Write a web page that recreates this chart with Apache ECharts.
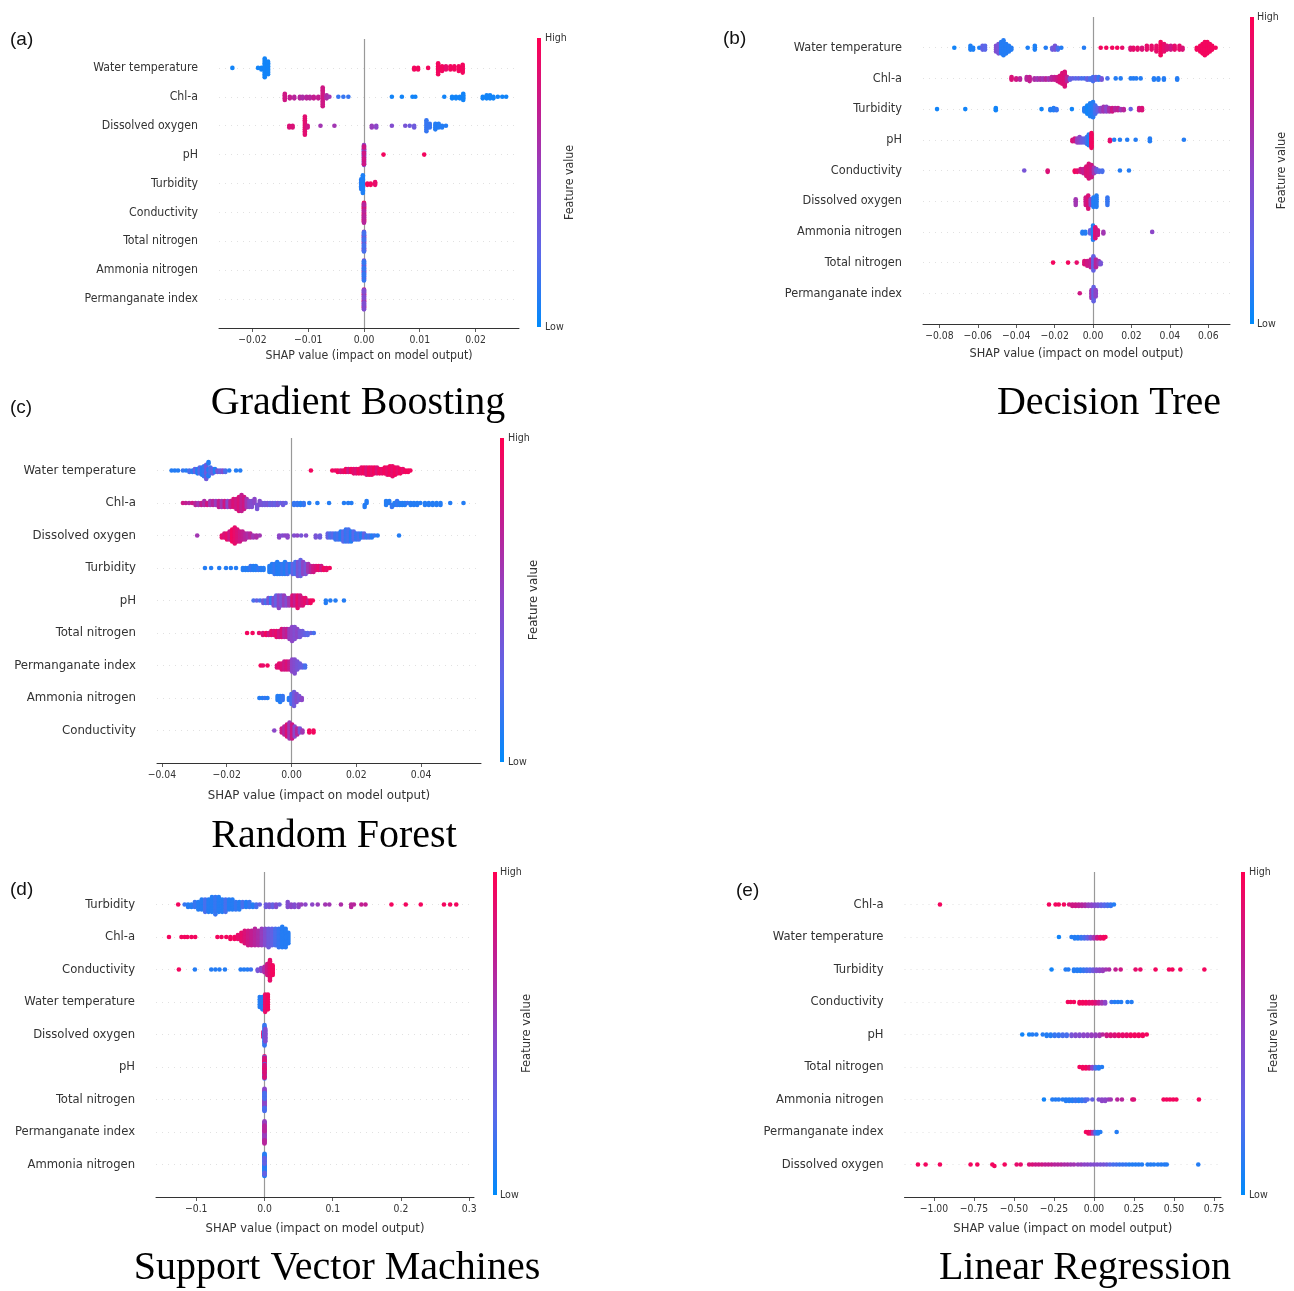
<!DOCTYPE html>
<html><head><meta charset="utf-8">
<script src="https://cdn.jsdelivr.net/npm/echarts@6/dist/echarts.min.js"></script>
<style>html,body{margin:0;padding:0;background:#fff}#chart{width:1294px;height:1291px}</style>
</head><body><div id="chart"></div>
<script>
// ================= CATEGORIES (rows, top to bottom) =================
const gbFeatures = ['Water temperature','Chl-a','Dissolved oxygen','pH','Turbidity','Conductivity','Total nitrogen','Ammonia nitrogen','Permanganate index'];
const dtFeatures = ['Water temperature','Chl-a','Turbidity','pH','Conductivity','Dissolved oxygen','Ammonia nitrogen','Total nitrogen','Permanganate index'];
const rfFeatures = ['Water temperature','Chl-a','Dissolved oxygen','Turbidity','pH','Total nitrogen','Permanganate index','Ammonia nitrogen','Conductivity'];
const svmFeatures = ['Turbidity','Chl-a','Conductivity','Water temperature','Dissolved oxygen','pH','Total nitrogen','Permanganate index','Ammonia nitrogen'];
const lrFeatures = ['Chl-a','Water temperature','Turbidity','Conductivity','pH','Total nitrogen','Ammonia nitrogen','Permanganate index','Dissolved oxygen'];

// ================= TICKS =================
const gbTicks = [-0.02,-0.01,0,0.01,0.02];
const gbTickLabels = ['\u22120.02','\u22120.01','0.00','0.01','0.02'];
const dtTicks = [-0.08,-0.06,-0.04,-0.02,0,0.02,0.04,0.06];
const dtTickLabels = ['\u22120.08','\u22120.06','\u22120.04','\u22120.02','0.00','0.02','0.04','0.06'];
const rfTicks = [-0.04,-0.02,0,0.02,0.04];
const rfTickLabels = ['\u22120.04','\u22120.02','0.00','0.02','0.04'];
const svmTicks = [-0.1,0,0.1,0.2,0.3];
const svmTickLabels = ['\u22120.1','0.0','0.1','0.2','0.3'];
const lrTicks = [-1,-0.75,-0.5,-0.25,0,0.25,0.5,0.75];
const lrTickLabels = ['\u22121.00','\u22120.75','\u22120.50','\u22120.25','0.00','0.25','0.50','0.75'];

// ================= SERIES VALUES: [SHAP value, feature value (0 low..1 high), number of samples] =================
// (a) Gradient Boosting
const gb_water_temperature = [[-0.0236,0.05,1],[-0.0190,0.05,1],[-0.0184,0.05,2],[-0.0178,0.05,13],[-0.0172,0.05,9],[0.0090,0.95,2],[0.0097,0.95,2],[0.0115,0.95,1],[0.0133,0.95,8],[0.0140,0.95,4],[0.0147,0.9,3],[0.0155,0.95,3],[0.0162,0.95,3],[0.0170,0.95,4],[0.0177,0.95,6]];
const gb_chl_a = [[-0.0142,0.8,5],[-0.0133,0.75,2],[-0.0125,0.7,2],[-0.0115,0.7,2],[-0.0110,0.65,2],[-0.0103,0.7,2],[-0.0097,0.7,2],[-0.0090,0.75,2],[-0.0082,0.75,2],[-0.0074,0.8,13],[-0.0067,0.65,3],[-0.0062,0.6,1],[-0.0046,0.15,1],[-0.0037,0.15,1],[-0.0028,0.15,1],[0.0050,0.05,1],[0.0068,0.05,1],[0.0087,0.05,1],[0.0092,0.05,1],[0.0144,0.05,1],[0.0158,0.05,2],[0.0165,0.05,2],[0.0172,0.05,2],[0.0178,0.05,5],[0.0213,0.05,2],[0.0220,0.05,3],[0.0226,0.05,3],[0.0232,0.05,2],[0.0240,0.05,1],[0.0248,0.05,1],[0.0255,0.05,1]];
const gb_dissolved_oxygen = [[-0.0134,0.85,2],[-0.0128,0.85,2],[-0.0106,0.88,11],[-0.0101,0.8,2],[-0.0078,0.6,1],[-0.0053,0.6,1],[0.0014,0.55,2],[0.0022,0.5,2],[0.0050,0.45,1],[0.0074,0.4,1],[0.0082,0.35,1],[0.0090,0.35,2],[0.0112,0.15,7],[0.0118,0.15,3],[0.0128,0.1,4],[0.0134,0.1,3],[0.0140,0.1,2],[0.0147,0.1,1]];
const gb_ph = [[0,0.6,12],[0,0.35,10],[0,0.8,8],[0.0035,0.95,1],[0.0108,0.95,1]];
const gb_turbidity = [[-0.0005,0.1,8],[-0.0002,0.08,14],[0.0006,0.95,2],[0.0012,0.95,2],[0.0020,0.9,3]];
const gb_conductivity = [[0,0.9,18],[0,0.7,12]];
const gb_total_nitrogen = [[0,0.55,15],[0,0.2,15]];
const gb_ammonia_nitrogen = [[0,0.5,15],[0,0.15,15]];
const gb_permanganate_index = [[0,0.75,15],[0,0.45,15]];

// (b) Decision Tree
const dt_water_temperature = [[-0.0722,0.05,1],[-0.0638,0.08,3],[-0.0624,0.08,2],[-0.0592,0.08,1],[-0.0575,0.3,3],[-0.0562,0.25,3],[-0.0505,0.45,4],[-0.0492,0.4,6],[-0.0478,0.1,7],[-0.0466,0.1,9],[-0.0452,0.1,6],[-0.0438,0.1,4],[-0.0425,0.1,2],[-0.0340,0.08,1],[-0.0303,0.08,3],[-0.0246,0.1,1],[-0.0212,0.35,2],[-0.0198,0.4,3],[-0.0183,0.2,2],[-0.0165,0.1,1],[-0.0047,0.1,1],[0.0040,0.95,1],[0.0069,0.95,1],[0.0100,0.95,1],[0.0126,0.95,1],[0.0152,0.9,1],[0.0195,0.85,2],[0.0210,0.9,2],[0.0232,0.9,2],[0.0255,0.85,2],[0.0280,0.9,3],[0.0305,0.9,3],[0.0330,0.9,4],[0.0352,0.95,8],[0.0370,0.9,5],[0.0385,0.85,3],[0.0405,0.8,3],[0.0425,0.9,3],[0.0450,0.9,3],[0.0466,0.85,2],[0.0540,0.95,2],[0.0558,0.95,4],[0.0570,0.95,6],[0.0582,0.95,8],[0.0595,0.95,7],[0.0608,0.95,5],[0.0620,0.95,3],[0.0638,0.95,1]];
const dt_chl_a = [[-0.0424,0.85,3],[-0.0400,0.8,2],[-0.0380,0.7,2],[-0.0345,0.7,3],[-0.0330,0.75,4],[-0.0305,0.65,2],[-0.0290,0.6,2],[-0.0275,0.65,2],[-0.0260,0.6,2],[-0.0245,0.7,2],[-0.0230,0.6,2],[-0.0215,0.7,3],[-0.0200,0.75,3],[-0.0185,0.8,4],[-0.0172,0.85,6],[-0.0160,0.85,9],[-0.0147,0.85,12],[-0.0135,0.7,4],[-0.0120,0.3,2],[-0.0105,0.3,1],[-0.0090,0.25,1],[-0.0075,0.3,1],[-0.0060,0.2,1],[-0.0045,0.2,1],[-0.0030,0.3,2],[-0.0015,0.2,2],[0.0000,0.2,4],[0.0015,0.3,3],[0.0030,0.15,3],[0.0045,0.4,2],[0.0075,0.2,1],[0.0118,0.1,1],[0.0144,0.1,1],[0.0196,0.1,1],[0.0210,0.1,1],[0.0225,0.1,1],[0.0248,0.1,1],[0.0317,0.1,2],[0.0340,0.1,2],[0.0369,0.1,2],[0.0438,0.1,2]];
const dt_turbidity = [[-0.0812,0.05,1],[-0.0665,0.05,1],[-0.0506,0.05,3],[-0.0268,0.05,1],[-0.0222,0.1,2],[-0.0205,0.1,3],[-0.0190,0.15,2],[-0.0110,0.05,1],[-0.0045,0.1,4],[-0.0030,0.05,8],[-0.0015,0.08,12],[0.0000,0.1,14],[0.0012,0.2,8],[0.0025,0.3,4],[0.0040,0.5,4],[0.0055,0.6,5],[0.0070,0.5,5],[0.0085,0.65,4],[0.0100,0.8,4],[0.0115,0.7,3],[0.0130,0.75,3],[0.0145,0.6,2],[0.0160,0.7,2],[0.0196,0.3,1],[0.0240,0.8,3],[0.0255,0.85,3]];
const dt_ph = [[-0.0107,0.85,2],[-0.0095,0.8,3],[-0.0082,0.55,4],[-0.0070,0.5,5],[-0.0058,0.35,4],[-0.0045,0.3,4],[-0.0032,0.2,6],[-0.0022,0.1,9],[-0.0008,0.95,12],[0.0088,0.9,2],[0.0110,0.1,1],[0.0140,0.1,1],[0.0178,0.1,1],[0.0222,0.1,1],[0.0296,0.1,3],[0.0473,0.1,1]];
const dt_conductivity = [[-0.0358,0.4,1],[-0.0236,0.85,2],[-0.0095,0.95,2],[-0.0082,0.9,2],[-0.0065,0.8,3],[-0.0050,0.75,4],[-0.0035,0.85,8],[-0.0022,0.85,12],[-0.0008,0.8,10],[0.0005,0.6,5],[0.0018,0.35,3],[0.0032,0.25,2],[0.0048,0.2,2],[0.0140,0.1,1],[0.0187,0.1,1]];
const dt_dissolved_oxygen = [[-0.0090,0.6,4],[-0.0038,0.8,5],[-0.0025,0.85,8],[-0.0012,0.5,4],[0.0002,0.1,6],[0.0018,0.1,7],[0.0075,0.15,5]];
const dt_ammonia_nitrogen = [[-0.0055,0.1,2],[-0.0040,0.1,2],[-0.0015,0.3,3],[0.0000,0.1,10],[0.0012,0.85,8],[0.0025,0.8,4],[0.0054,0.6,2],[0.0308,0.5,1]];
const dt_total_nitrogen = [[-0.0208,0.95,1],[-0.0130,0.95,1],[-0.0085,0.9,1],[-0.0045,0.85,3],[-0.0030,0.8,4],[-0.0012,0.75,6],[0.0002,0.3,10],[0.0015,0.7,6],[0.0030,0.6,3],[0.0040,0.4,2]];
const dt_permanganate_index = [[-0.0069,0.8,1],[-0.0008,0.6,6],[0.0003,0.3,10],[0.0014,0.5,5]];

// (c) Random Forest
const rf_water_temperature = [[-0.0370,0.1,1],[-0.0360,0.1,1],[-0.0350,0.1,1],[-0.0335,0.15,1],[-0.0325,0.1,1],[-0.0315,0.2,2],[-0.0305,0.1,2],[-0.0298,0.3,3],[-0.0290,0.1,4],[-0.0283,0.25,5],[-0.0276,0.1,6],[-0.0270,0.15,8],[-0.0263,0.35,7],[-0.0256,0.1,6],[-0.0250,0.2,5],[-0.0243,0.3,4],[-0.0236,0.1,3],[-0.0228,0.4,2],[-0.0220,0.3,2],[-0.0212,0.45,2],[-0.0204,0.2,2],[-0.0192,0.1,1],[-0.0171,0.1,1],[-0.0158,0.1,1],[0.0060,0.95,1],[0.0126,0.95,1],[0.0135,0.9,1],[0.0143,0.95,2],[0.0152,0.85,2],[0.0160,0.9,2],[0.0168,0.95,3],[0.0176,0.8,3],[0.0184,0.95,3],[0.0192,0.9,4],[0.0200,0.85,4],[0.0208,0.95,4],[0.0216,0.9,5],[0.0224,0.95,5],[0.0232,0.85,6],[0.0240,0.95,6],[0.0248,0.9,6],[0.0256,0.95,5],[0.0264,0.85,5],[0.0272,0.95,4],[0.0280,0.9,4],[0.0288,0.95,5],[0.0296,0.9,6],[0.0304,0.95,7],[0.0312,0.9,8],[0.0320,0.95,6],[0.0328,0.9,5],[0.0336,0.95,4],[0.0344,0.9,3],[0.0352,0.95,2],[0.0360,0.95,2],[0.0367,0.95,1]];
const rf_chl_a = [[-0.0335,0.8,1],[-0.0326,0.75,1],[-0.0316,0.7,1],[-0.0306,0.8,1],[-0.0296,0.7,2],[-0.0287,0.6,2],[-0.0278,0.75,2],[-0.0269,0.65,3],[-0.0260,0.8,2],[-0.0251,0.6,3],[-0.0242,0.7,3],[-0.0233,0.55,3],[-0.0224,0.75,4],[-0.0215,0.6,4],[-0.0206,0.8,4],[-0.0197,0.5,4],[-0.0188,0.75,4],[-0.0179,0.85,5],[-0.0170,0.8,6],[-0.0162,0.85,8],[-0.0154,0.75,9],[-0.0146,0.8,7],[-0.0138,0.6,5],[-0.0130,0.5,4],[-0.0122,0.45,4],[-0.0114,0.5,3],[-0.0106,0.4,3],[-0.0098,0.45,3],[-0.0090,0.4,2],[-0.0082,0.35,2],[-0.0074,0.4,2],[-0.0066,0.3,2],[-0.0058,0.35,2],[-0.0050,0.3,2],[-0.0042,0.4,2],[-0.0034,0.3,1],[-0.0026,0.35,2],[-0.0018,0.3,1],[0.0008,0.15,2],[0.0018,0.15,2],[0.0028,0.1,2],[0.0038,0.15,2],[0.0055,0.1,1],[0.0080,0.1,1],[0.0116,0.1,1],[0.0162,0.1,1],[0.0175,0.1,1],[0.0185,0.1,1],[0.0226,0.1,2],[0.0232,0.1,2],[0.0292,0.1,3],[0.0302,0.1,2],[0.0310,0.15,2],[0.0318,0.1,2],[0.0326,0.15,3],[0.0334,0.1,2],[0.0342,0.1,2],[0.0350,0.1,2],[0.0358,0.15,1],[0.0368,0.1,2],[0.0378,0.1,2],[0.0388,0.1,2],[0.0398,0.1,1],[0.0412,0.1,2],[0.0424,0.1,2],[0.0436,0.1,2],[0.0448,0.1,2],[0.0460,0.1,2],[0.0490,0.1,1],[0.0531,0.1,1]];
const rf_dissolved_oxygen = [[-0.0291,0.6,1],[-0.0215,0.9,2],[-0.0207,0.85,3],[-0.0199,0.9,4],[-0.0191,0.8,5],[-0.0183,0.95,7],[-0.0175,0.9,9],[-0.0167,0.85,7],[-0.0159,0.8,6],[-0.0151,0.75,5],[-0.0143,0.7,4],[-0.0135,0.65,3],[-0.0127,0.7,3],[-0.0118,0.6,2],[-0.0108,0.65,2],[-0.0098,0.6,1],[-0.0038,0.5,2],[-0.0028,0.45,1],[-0.0020,0.5,1],[-0.0012,0.5,2],[0.0008,0.45,1],[0.0018,0.5,1],[0.0030,0.4,1],[0.0045,0.45,1],[0.0075,0.4,2],[0.0088,0.35,2],[0.0112,0.3,3],[0.0120,0.2,3],[0.0128,0.25,3],[0.0136,0.15,4],[0.0144,0.2,4],[0.0152,0.1,5],[0.0160,0.25,6],[0.0168,0.15,7],[0.0176,0.2,7],[0.0184,0.1,6],[0.0192,0.25,5],[0.0200,0.15,4],[0.0208,0.2,4],[0.0216,0.1,3],[0.0224,0.3,3],[0.0232,0.15,2],[0.0240,0.2,2],[0.0248,0.1,2],[0.0256,0.15,1],[0.0266,0.1,1],[0.0332,0.1,1]];
const rf_turbidity = [[-0.0267,0.1,1],[-0.0248,0.1,1],[-0.0223,0.1,1],[-0.0202,0.1,1],[-0.0187,0.1,1],[-0.0171,0.1,1],[-0.0150,0.1,2],[-0.0142,0.1,2],[-0.0134,0.1,2],[-0.0126,0.15,3],[-0.0118,0.1,3],[-0.0110,0.1,3],[-0.0102,0.15,2],[-0.0094,0.1,2],[-0.0086,0.1,2],[-0.0068,0.1,4],[-0.0060,0.1,5],[-0.0052,0.15,6],[-0.0044,0.1,7],[-0.0036,0.1,6],[-0.0028,0.15,6],[-0.0020,0.1,7],[-0.0012,0.2,6],[-0.0004,0.1,5],[0.0004,0.3,6],[0.0012,0.2,7],[0.0020,0.4,8],[0.0028,0.3,9],[0.0036,0.5,7],[0.0044,0.4,6],[0.0052,0.6,5],[0.0060,0.7,4],[0.0068,0.8,4],[0.0076,0.85,3],[0.0084,0.9,3],[0.0092,0.8,3],[0.0100,0.95,2],[0.0108,0.9,2],[0.0118,0.95,1]];
const rf_ph = [[-0.0117,0.2,1],[-0.0107,0.3,1],[-0.0097,0.2,1],[-0.0087,0.35,2],[-0.0079,0.2,2],[-0.0071,0.4,3],[-0.0063,0.15,3],[-0.0055,0.45,4],[-0.0047,0.3,5],[-0.0039,0.5,6],[-0.0031,0.4,5],[-0.0023,0.55,5],[-0.0015,0.45,4],[-0.0007,0.6,4],[0.0003,0.85,5],[0.0011,0.75,5],[0.0019,0.9,6],[0.0027,0.8,5],[0.0035,0.85,4],[0.0043,0.9,3],[0.0051,0.8,2],[0.0059,0.95,2],[0.0066,0.95,1],[0.0106,0.1,2],[0.0120,0.1,1],[0.0136,0.1,1],[0.0162,0.1,1]];
const rf_total_nitrogen = [[-0.0137,0.95,1],[-0.0120,0.95,1],[-0.0100,0.9,1],[-0.0088,0.85,2],[-0.0078,0.95,2],[-0.0070,0.8,2],[-0.0062,0.9,3],[-0.0054,0.85,3],[-0.0046,0.9,4],[-0.0038,0.8,4],[-0.0030,0.85,5],[-0.0022,0.7,5],[-0.0014,0.75,5],[-0.0006,0.55,6],[0.0002,0.5,8],[0.0010,0.45,7],[0.0018,0.5,5],[0.0026,0.4,4],[0.0034,0.35,3],[0.0042,0.3,2],[0.0050,0.25,2],[0.0060,0.3,1],[0.0069,0.2,1]];
const rf_permanganate_index = [[-0.0095,0.95,1],[-0.0088,0.9,1],[-0.0074,0.95,1],[-0.0045,0.85,2],[-0.0038,0.9,3],[-0.0030,0.85,4],[-0.0022,0.8,5],[-0.0014,0.85,5],[-0.0006,0.75,5],[0.0002,0.5,7],[0.0010,0.45,8],[0.0018,0.4,5],[0.0026,0.35,3],[0.0034,0.3,2],[0.0042,0.2,2]];
const rf_ammonia_nitrogen = [[-0.0099,0.1,1],[-0.0090,0.1,1],[-0.0082,0.15,1],[-0.0074,0.1,1],[-0.0043,0.1,3],[-0.0035,0.1,4],[-0.0027,0.15,3],[-0.0008,0.1,2],[0.0000,0.2,6],[0.0008,0.35,8],[0.0016,0.45,5],[0.0024,0.4,3],[0.0032,0.5,2]];
const rf_conductivity = [[-0.0053,0.5,1],[-0.0030,0.8,3],[-0.0022,0.7,5],[-0.0014,0.85,7],[-0.0006,0.6,9],[0.0002,0.8,8],[0.0010,0.5,6],[0.0018,0.7,4],[0.0026,0.4,3],[0.0034,0.6,2],[0.0055,0.95,2],[0.0068,0.95,2]];

// (d) Support Vector Machines
const svm_turbidity = [[-0.1265,0.95,1],[-0.117,0.15,1],[-0.112,0.1,2],[-0.107,0.1,2],[-0.102,0.15,3],[-0.097,0.1,4],[-0.092,0.1,5],[-0.087,0.2,6],[-0.082,0.1,6],[-0.077,0.1,7],[-0.072,0.15,8],[-0.067,0.1,7],[-0.062,0.1,6],[-0.057,0.2,6],[-0.052,0.1,5],[-0.047,0.1,5],[-0.042,0.15,4],[-0.037,0.1,4],[-0.032,0.2,3],[-0.027,0.1,3],[-0.022,0.15,3],[-0.017,0.1,2],[-0.012,0.2,2],[-0.007,0.3,1],[0.002,0.35,2],[0.007,0.4,2],[0.012,0.3,2],[0.017,0.45,2],[0.022,0.35,1],[0.034,0.45,3],[0.039,0.5,2],[0.044,0.45,2],[0.050,0.5,2],[0.054,0.55,1],[0.060,0.5,1],[0.070,0.5,1],[0.078,0.55,1],[0.089,0.6,1],[0.095,0.6,1],[0.112,0.65,1],[0.127,0.7,2],[0.131,0.7,1],[0.142,0.75,1],[0.148,0.75,1],[0.186,0.95,1],[0.207,0.95,1],[0.229,0.95,1],[0.263,0.95,1],[0.272,0.95,1],[0.281,0.95,1]];
const svm_chl_a = [[-0.140,0.95,1],[-0.1217,0.95,1],[-0.117,0.95,1],[-0.113,0.95,1],[-0.107,0.95,1],[-0.1015,0.95,1],[-0.069,0.95,1],[-0.063,0.95,1],[-0.056,0.95,1],[-0.050,0.95,2],[-0.044,0.95,2],[-0.039,0.9,3],[-0.034,0.9,5],[-0.029,0.85,7],[-0.024,0.8,8],[-0.019,0.75,8],[-0.014,0.7,9],[-0.009,0.65,8],[-0.004,0.55,9],[0.001,0.45,9],[0.006,0.35,10],[0.011,0.3,9],[0.016,0.2,9],[0.021,0.15,10],[0.026,0.1,11],[0.031,0.1,10],[0.035,0.1,6]];
const svm_conductivity = [[-0.1255,0.95,1],[-0.102,0.1,1],[-0.078,0.1,1],[-0.072,0.1,1],[-0.066,0.1,1],[-0.058,0.1,1],[-0.035,0.1,1],[-0.030,0.1,1],[-0.025,0.1,1],[-0.020,0.15,1],[-0.010,0.4,2],[-0.005,0.5,3],[0.000,0.65,5],[0.004,0.8,9],[0.008,0.9,16],[0.012,0.95,8]];
const svm_water_temperature = [[-0.007,0.1,5],[-0.003,0.1,6],[0.001,0.9,8],[0.005,0.95,7]];
const svm_dissolved_oxygen = [[-0.0015,0.85,5],[0.0,0.15,16],[0.0012,0.45,10]];
const svm_ph = [[0,0.9,14],[0,0.2,8],[0,0.85,8]];
const svm_total_nitrogen = [[0,0.5,16],[0,0.2,12]];
const svm_permanganate_index = [[0,0.55,18],[0,0.7,10]];
const svm_ammonia_nitrogen = [[0,0.1,22],[0,0.3,6]];

// (e) Linear Regression
const lr_chl_a = [[-0.9625,0.95,1],[-0.281,0.95,1],[-0.240,0.95,1],[-0.220,0.95,1],[-0.1875,0.95,1],[-0.155,0.85,1],[-0.135,0.8,2],[-0.115,0.8,2],[-0.095,0.75,2],[-0.075,0.7,2],[-0.055,0.65,2],[-0.035,0.55,2],[-0.015,0.5,2],[0.005,0.45,2],[0.025,0.4,2],[0.045,0.3,2],[0.065,0.25,2],[0.085,0.2,2],[0.105,0.15,2],[0.125,0.1,1]];
const lr_water_temperature = [[-0.219,0.05,1],[-0.140,0.1,1],[-0.120,0.1,2],[-0.100,0.1,2],[-0.080,0.15,2],[-0.060,0.2,2],[-0.040,0.3,2],[-0.020,0.45,2],[0.000,0.6,2],[0.020,0.8,2],[0.040,0.9,2],[0.060,0.95,2],[0.072,0.95,1]];
const lr_turbidity = [[-0.265,0.05,1],[-0.177,0.1,1],[-0.160,0.1,1],[-0.125,0.1,2],[-0.105,0.1,2],[-0.085,0.1,2],[-0.065,0.15,2],[-0.045,0.2,2],[-0.025,0.25,2],[-0.005,0.35,2],[0.015,0.45,2],[0.035,0.5,2],[0.055,0.55,2],[0.075,0.6,1],[0.095,0.65,1],[0.135,0.75,1],[0.167,0.8,1],[0.260,0.9,1],[0.290,0.9,1],[0.385,0.95,1],[0.469,0.95,1],[0.490,0.95,1],[0.540,0.95,1],[0.690,0.95,1]];
const lr_conductivity = [[-0.163,0.95,1],[-0.145,0.95,1],[-0.125,0.95,1],[-0.090,0.95,2],[-0.070,0.95,2],[-0.050,0.95,2],[-0.030,0.9,2],[-0.010,0.9,2],[0.010,0.85,2],[0.030,0.75,2],[0.050,0.6,2],[0.070,0.5,2],[0.110,0.15,1],[0.130,0.1,1],[0.150,0.1,1],[0.170,0.1,1],[0.210,0.1,1],[0.235,0.1,1]];
const lr_ph = [[-0.448,0.05,1],[-0.405,0.05,1],[-0.385,0.1,1],[-0.360,0.1,1],[-0.320,0.1,1],[-0.295,0.1,2],[-0.270,0.1,2],[-0.245,0.15,2],[-0.220,0.15,2],[-0.195,0.2,2],[-0.170,0.2,2],[-0.140,0.4,2],[-0.115,0.45,2],[-0.090,0.45,2],[-0.065,0.5,2],[-0.040,0.5,2],[-0.015,0.55,2],[0.010,0.55,2],[0.035,0.6,2],[0.055,0.7,1],[0.080,0.8,2],[0.105,0.85,2],[0.130,0.85,2],[0.155,0.9,2],[0.180,0.9,2],[0.205,0.9,2],[0.230,0.95,2],[0.255,0.95,2],[0.280,0.95,2],[0.305,0.95,2],[0.330,0.95,1]];
const lr_total_nitrogen = [[-0.090,0.95,1],[-0.070,0.95,2],[-0.050,0.95,2],[-0.030,0.85,2],[-0.010,0.5,2],[0.010,0.2,2],[0.030,0.1,2],[0.050,0.1,1]];
const lr_ammonia_nitrogen = [[-0.3125,0.05,1],[-0.260,0.1,1],[-0.240,0.1,1],[-0.220,0.1,1],[-0.195,0.1,1],[-0.175,0.1,2],[-0.155,0.1,2],[-0.135,0.1,2],[-0.115,0.15,2],[-0.095,0.1,2],[-0.075,0.15,2],[-0.055,0.2,2],[-0.040,0.25,1],[-0.010,0.3,1],[0.030,0.45,1],[0.050,0.5,2],[0.070,0.5,2],[0.090,0.55,1],[0.105,0.6,1],[0.146,0.7,1],[0.175,0.7,1],[0.240,0.85,1],[0.250,0.85,1],[0.435,0.95,1],[0.455,0.95,1],[0.475,0.95,1],[0.495,0.95,1],[0.515,0.95,1],[0.656,0.95,1]];
const lr_permanganate_index = [[-0.050,0.95,1],[-0.035,0.95,2],[-0.020,0.9,2],[-0.005,0.6,2],[0.010,0.2,2],[0.025,0.1,2],[0.040,0.1,1],[0.142,0.1,1]];
const lr_dissolved_oxygen = [[-1.100,0.95,1],[-1.052,0.95,1],[-0.9625,0.95,1],[-0.771,0.95,1],[-0.729,0.95,1],[-0.635,0.95,1],[-0.622,0.95,1],[-0.558,0.95,1],[-0.483,0.9,1],[-0.458,0.9,1],[-0.405,0.85,1],[-0.385,0.85,1],[-0.365,0.8,1],[-0.345,0.8,1],[-0.325,0.8,1],[-0.305,0.75,1],[-0.285,0.75,1],[-0.265,0.75,1],[-0.245,0.7,1],[-0.225,0.7,1],[-0.205,0.7,1],[-0.185,0.65,1],[-0.165,0.65,1],[-0.145,0.6,1],[-0.125,0.6,1],[-0.100,0.55,1],[-0.080,0.55,1],[-0.060,0.5,1],[-0.040,0.5,1],[-0.020,0.45,1],[0.000,0.45,1],[0.020,0.45,1],[0.040,0.4,1],[0.060,0.4,1],[0.080,0.35,1],[0.100,0.25,1],[0.120,0.2,1],[0.140,0.2,1],[0.160,0.15,1],[0.180,0.15,1],[0.200,0.15,1],[0.220,0.1,1],[0.240,0.1,1],[0.260,0.1,1],[0.280,0.1,1],[0.300,0.1,1],[0.335,0.1,1],[0.355,0.1,1],[0.375,0.1,1],[0.400,0.1,1],[0.420,0.1,1],[0.440,0.1,1],[0.455,0.1,1],[0.652,0.1,1]];

// ================= LAYOUT / STYLE (no data) =================
const cmap = ['#008bfb','#5a68ea','#8c46c8','#c21d90','#ff0052'];

// pick a condensed sans if installed (the reference labels are narrow, tall glyphs); keep the same text widths
function textWidth(font, text) { const c = document.createElement('canvas').getContext('2d'); c.font = font; return c.measureText(text).width; }
const PROBE = 'Water temperature';
let FONT = '"DejaVu Sans", sans-serif', FSCALE = 1;
(function () {
  const cands = ['DejaVu Sans Condensed', 'Liberation Sans Narrow'];
  const base = textWidth('20px "DejaVu Sans"', PROBE);
  for (const f of cands) {
    const w = textWidth('20px "' + f + '", monospace', PROBE);
    const wm = textWidth('20px monospace', PROBE);
    if (Math.abs(w - wm) > 0.5 && w < base * 0.95) { FONT = '"' + f + '", "DejaVu Sans", sans-serif'; FSCALE = Math.min(base / w, 1.25); break; }
  }
})();
const fsz = v => Math.round(v * FSCALE * 10) / 10;

const panels = [
  {tag:'(a)', title:'Gradient Boosting', features:gbFeatures, rows:[gb_water_temperature,gb_chl_a,gb_dissolved_oxygen,gb_ph,gb_turbidity,gb_conductivity,gb_total_nitrogen,gb_ammonia_nitrogen,gb_permanganate_index],
   ticks:gbTicks, tickLabels:gbTickLabels, xMin:-0.026, xMax:0.0278, grid:{left:219,top:39,width:300,height:289}, fs:11, nameGap:22, swarmH:0.42,
   cbar:{x:537,y:38,h:289}, cbText:545, fvX:570, tagPos:[10,40], titlePos:[358,403]},
  {tag:'(b)', title:'Decision Tree', features:dtFeatures, rows:[dt_water_temperature,dt_chl_a,dt_turbidity,dt_ph,dt_conductivity,dt_dissolved_oxygen,dt_ammonia_nitrogen,dt_total_nitrogen,dt_permanganate_index],
   ticks:dtTicks, tickLabels:dtTickLabels, xMin:-0.0885, xMax:0.0713, grid:{left:923,top:17,width:307,height:307}, fs:11.3, nameGap:23, swarmH:0.34,
   cbar:{x:1250,y:17,h:307}, cbText:1257, fvX:1282, tagPos:[723,39], titlePos:[1109,403]},
  {tag:'(c)', title:'Random Forest', features:rfFeatures, rows:[rf_water_temperature,rf_chl_a,rf_dissolved_oxygen,rf_turbidity,rf_ph,rf_total_nitrogen,rf_permanganate_index,rf_ammonia_nitrogen,rf_conductivity],
   ticks:rfTicks, tickLabels:rfTickLabels, xMin:-0.0415, xMax:0.0585, grid:{left:157,top:438,width:324,height:325}, fs:11.8, nameGap:26, swarmH:0.34,
   cbar:{x:500,y:438,h:324}, cbText:508, fvX:534, tagPos:[10,408], titlePos:[334,836]},
  {tag:'(d)', title:'Support Vector Machines', features:svmFeatures, rows:[svm_turbidity,svm_chl_a,svm_conductivity,svm_water_temperature,svm_dissolved_oxygen,svm_ph,svm_total_nitrogen,svm_permanganate_index,svm_ammonia_nitrogen],
   ticks:svmTicks, tickLabels:svmTickLabels, xMin:-0.159, xMax:0.307, grid:{left:156,top:872,width:318,height:325}, fs:11.6, nameGap:25, swarmH:0.42,
   cbar:{x:493,y:872,h:323}, cbText:500, fvX:527, tagPos:[10,890], titlePos:[337,1268]},
  {tag:'(e)', title:'Linear Regression', features:lrFeatures, rows:[lr_chl_a,lr_water_temperature,lr_turbidity,lr_conductivity,lr_ph,lr_total_nitrogen,lr_ammonia_nitrogen,lr_permanganate_index,lr_dissolved_oxygen],
   ticks:lrTicks, tickLabels:lrTickLabels, xMin:-1.184, xMax:0.794, grid:{left:904.5,top:872,width:316.5,height:325}, fs:11.6, nameGap:25, swarmH:0.1,
   cbar:{x:1241,y:872,h:323}, cbText:1249, fvX:1274, tagPos:[736,891], titlePos:[1085,1268]}
];

// SHAP-style beeswarm layout: points sharing a quantised x bin are stacked alternately up/down
function swarm(entries, rowH) {
  const pts = [];
  entries.forEach(e => { for (let k = 0; k < e[2]; k++) pts.push({x: e[0], c: e[1]}); });
  let mn = Infinity, mx = -Infinity;
  pts.forEach(p => { if (p.x < mn) mn = p.x; if (p.x > mx) mx = p.x; });
  const quant = pts.map(p => Math.round(100 * (p.x - mn) / (mx - mn + 1e-8)));
  const key = pts.map((p, i) => quant[i] + ((i * 0.6180339887) % 1) * 1e-3);
  const inds = pts.map((p, i) => i).sort((a, b) => key[a] - key[b]);
  const ys = new Array(pts.length).fill(0);
  let layer = 0, last = -1;
  inds.forEach(i => {
    if (quant[i] !== last) layer = 0;
    ys[i] = Math.ceil(layer / 2) * ((layer % 2) * 2 - 1);
    layer++; last = quant[i];
  });
  let m = -Infinity; ys.forEach(v => { if (v + 1 > m) m = v + 1; });
  const s = 0.9 * rowH / m;
  return pts.map((p, i) => ({x: p.x, dy: ys[i] * s, c: p.c}));
}

const chart = echarts.init(document.getElementById('chart'), null, {renderer: 'canvas'});
const grids = [], xAxes = [], yAxes = [], series = [], lineSeries = [], graphics = [];
const splitColors = ['rgba(0,0,0,0)'].concat(new Array(9).fill('#cccccc')).concat(['rgba(0,0,0,0)']);

panels.forEach((p, pi) => {
  grids.push(Object.assign({containLabel: false}, p.grid));
  xAxes.push({
    type: 'value', gridIndex: pi, min: p.xMin, max: p.xMax,
    axisLine: {show: true, onZero: false, lineStyle: {color: '#333333', width: 1}},
    axisTick: {show: true, length: 4, lineStyle: {color: '#333333', width: 0.8}, customValues: p.ticks},
    axisLabel: {customValues: p.ticks, color: '#333333', fontSize: fsz(9.3), fontFamily: FONT, margin: 7,
      formatter: v => { let best = 0; p.ticks.forEach((t, k) => { if (Math.abs(t - v) < Math.abs(p.ticks[best] - v)) best = k; }); return p.tickLabels[best]; }},
    splitLine: {show: false},
    name: 'SHAP value (impact on model output)', nameLocation: 'middle', nameGap: p.nameGap,
    nameTextStyle: {color: '#333333', fontSize: fsz(p.fs), fontFamily: FONT}
  });
  yAxes.push({
    type: 'value', gridIndex: pi, inverse: true, min: -1, max: 9, interval: 1,
    axisLine: {show: false}, axisTick: {show: false},
    axisLabel: {color: '#333333', fontSize: fsz(p.fs), fontFamily: FONT, margin: 21,
      formatter: v => (v >= 0 && v < p.features.length) ? p.features[Math.round(v)] : ''},
    splitLine: {show: true, lineStyle: {color: splitColors, width: 0.6, type: [1, 5]}}
  });
  const data = [];
  p.rows.forEach((entries, ri) => {
    swarm(entries, p.swarmH).forEach(q => data.push([q.x, ri + q.dy, q.c]));
  });
  series.push({type: 'scatter', xAxisIndex: pi, yAxisIndex: pi, data: data, symbolSize: 4.6, z: 3, silent: true,
    itemStyle: {opacity: 1}});
  lineSeries.push({type: 'line', xAxisIndex: pi, yAxisIndex: pi, data: [], silent: true, z: 1,
    markLine: {silent: true, z: 1, symbol: ['none', 'none'], label: {show: false}, animation: false,
      lineStyle: {color: '#999999', width: 1.2, type: 'solid'}, data: [{xAxis: 0}]}});

  // colour bar
  graphics.push({type: 'rect', shape: {x: p.cbar.x, y: p.cbar.y, width: 4, height: p.cbar.h}, silent: true,
    style: {fill: {type: 'linear', x: 0, y: 1, x2: 0, y2: 0,
      colorStops: cmap.map((c, k) => ({offset: k / (cmap.length - 1), color: c}))}}});
  graphics.push({type: 'text', x: p.cbText, y: p.cbar.y, silent: true,
    style: {text: 'High', font: fsz(9.5) + 'px ' + FONT, fill: '#333333', textAlign: 'left', textVerticalAlign: 'middle'}});
  graphics.push({type: 'text', x: p.cbText, y: p.cbar.y + p.cbar.h, silent: true,
    style: {text: 'Low', font: fsz(9.5) + 'px ' + FONT, fill: '#333333', textAlign: 'left', textVerticalAlign: 'middle'}});
  graphics.push({type: 'text', x: p.fvX, y: p.cbar.y + p.cbar.h / 2, rotation: Math.PI / 2, silent: true,
    style: {text: 'Feature value', font: fsz(p.fs) + 'px ' + FONT, fill: '#333333', textAlign: 'center', textVerticalAlign: 'middle'}});
  // panel tag and model title
  graphics.push({type: 'text', x: p.tagPos[0], y: p.tagPos[1], silent: true,
    style: {text: p.tag, font: '19px "Liberation Sans", Arial, sans-serif', fill: '#111111', textAlign: 'left', textVerticalAlign: 'middle'}});
  graphics.push({type: 'text', x: p.titlePos[0], y: p.titlePos[1], silent: true,
    style: {text: p.title, font: '40px "Liberation Serif", "Times New Roman", serif', fill: '#000000', textAlign: 'center', textVerticalAlign: 'middle'}});
});

chart.setOption({
  backgroundColor: '#ffffff',
  animation: false,
  grid: grids, xAxis: xAxes, yAxis: yAxes,
  visualMap: [{type: 'continuous', show: false, min: 0, max: 1, dimension: 2, seriesIndex: [0, 1, 2, 3, 4],
    inRange: {color: cmap}}],
  series: series.concat(lineSeries),
  graphic: graphics
});
</script>
</body></html>
